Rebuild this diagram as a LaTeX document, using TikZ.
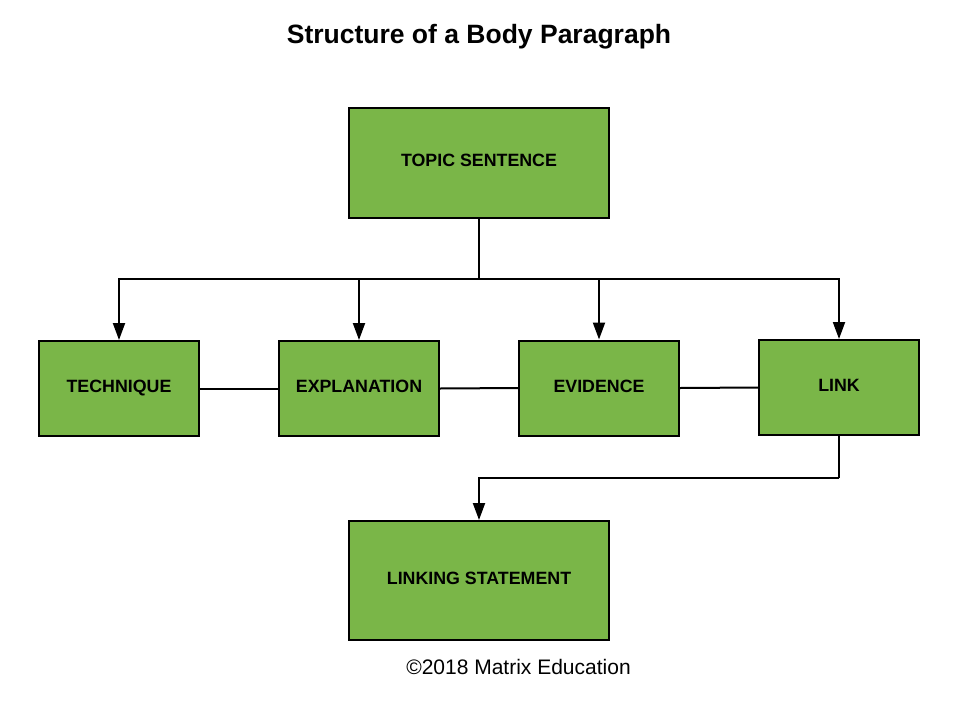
\documentclass[tikz,border=0pt]{standalone}
\usepackage{fontspec}
\setmainfont{Liberation Sans}
\usetikzlibrary{arrows.meta}
\definecolor{boxgreen}{HTML}{7AB648}
\tikzset{
  box/.style={draw=black, line width=2pt, fill=boxgreen, inner sep=0pt},
  lbl/.style={font=\fontsize{17.8}{20}\selectfont\bfseries, text height=12.8pt, text depth=0pt, inner sep=0pt},
  conn/.style={draw=black, line width=2pt},
  arr/.style={conn, -{Triangle[length=17pt,width=12pt]}},
}
\begin{document}
\begin{tikzpicture}[x=1pt,y=-1pt]
\useasboundingbox (0,0) rectangle (973,701);
% title
\node[font=\fontsize{26.5}{30}\selectfont\bfseries, anchor=base] (title) at (479,44) {Structure of a Body Paragraph};
% boxes
\node[box, minimum width=260pt, minimum height=110pt] (topic) at (479,163) {};
\node[lbl] (topict) at (479,160) {TOPIC SENTENCE};
\node[box, minimum width=160pt, minimum height=95pt] (tech) at (119,388.5) {};
\node[lbl] (techt) at (119,386) {TECHNIQUE};
\node[box, minimum width=160pt, minimum height=95pt] (expl) at (359,388.5) {};
\node[lbl] (explt) at (359,386) {EXPLANATION};
\node[box, minimum width=160pt, minimum height=95pt] (evid) at (599,388) {};
\node[lbl] (evidt) at (599,386) {EVIDENCE};
\node[box, minimum width=160pt, minimum height=95pt] (link) at (839,387.5) {};
\node[lbl] (linkt) at (839,385) {LINK};
\node[box, minimum width=260pt, minimum height=119pt] (ls) at (479,580.5) {};
\node[lbl] (lst) at (479,578) {LINKING STATEMENT};
% copyright
\node[font=\fontsize{21}{24}\selectfont, anchor=base] (copy) at (518.5,674) {©2018 Matrix Education};
% connectors
\coordinate (j) at (479,279);
\draw[conn] (topic.south) -- (j);
\draw[arr] (j) -| (tech.north);
\draw[arr] (j) -| (expl.north);
\draw[arr] (j) -| (evid.north);
\draw[arr] (j) -| (link.north);
\draw[conn] (tech.east) -- (expl.west);
\draw[conn] (expl.east) -- (evid.west);
\draw[conn] (evid.east) -- (link.west);
\coordinate (k) at (839,478);
\draw[conn] (link.south) -- (k);
\draw[arr] (k) -| (ls.north);
\end{tikzpicture}
\end{document}
